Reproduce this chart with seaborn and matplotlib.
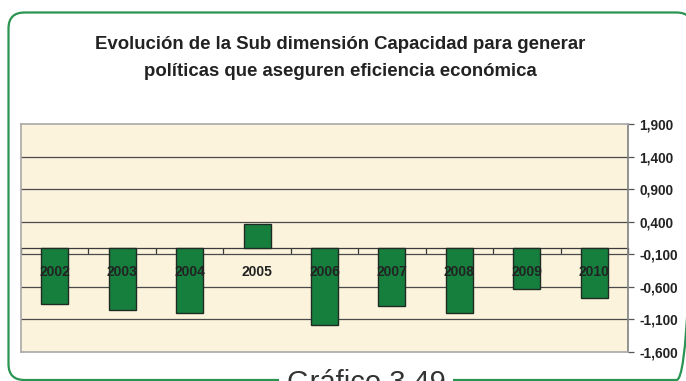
import matplotlib
matplotlib.use("Agg")
import matplotlib.pyplot as plt
import seaborn as sns
import pandas as pd
import numpy as np
from matplotlib.patches import FancyBboxPatch
from matplotlib.ticker import FixedLocator, FuncFormatter

# Data
years = ["2002", "2003", "2004", "2005", "2006", "2007", "2008", "2009", "2010"]
values = [-0.87, -0.95, -1.00, 0.37, -1.19, -0.89, -1.00, -0.64, -0.77]
y_ticks = [1.9, 1.4, 0.9, 0.4, -0.1, -0.6, -1.1, -1.6]

title = ("Evolución de la Sub dimensión Capacidad para generar\n"
         "políticas que aseguren eficiencia económica")
caption = "Gráfico 3.49"

sns.set_theme(style="white")
plt.rcParams["font.family"] = ["Liberation Sans", "DejaVu Sans"]

W, H = 686, 381
fig = plt.figure(figsize=(W / 100, H / 100), dpi=100)
fig.patch.set_facecolor("white")

# Outer rounded frame, drawn in pixel coordinates
frame = fig.add_axes([0, 0, 1, 1], zorder=0)
frame.set_xlim(0, W)
frame.set_ylim(H, 0)
frame.axis("off")
frame.add_patch(FancyBboxPatch((8.5, 12.5), 684, 367.5,
                               boxstyle="round,pad=0,rounding_size=16",
                               fill=False, edgecolor="#2a9452", linewidth=1.6,
                               clip_on=False))
frame.text(366, 369, caption, ha="center", va="top", fontsize=21,
           color="#333333", zorder=5,
           bbox=dict(boxstyle="square,pad=0.25", facecolor="white",
                     edgecolor="none"))
frame.text(340, 58, title, ha="center", va="center", fontsize=13.4,
           fontweight="bold", color="#222222", linespacing=1.75)

# Plot area
left, right, top, bottom = 21, 628, 124, 352
ax = fig.add_axes([left / W, 1 - bottom / H, (right - left) / W,
                   (bottom - top) / H], zorder=1)
ax.set_facecolor("#fbf3dc")

df = pd.DataFrame({"year": years, "value": values})
sns.barplot(data=df, x="year", y="value", ax=ax, color="#167f3e",
            saturation=1, width=0.40, edgecolor="#1e2a22", linewidth=1.0,
            zorder=3)

ax.set_ylim(-1.6, 1.9)
ax.set_xlim(-0.5, len(years) - 0.5)

# Horizontal gridlines
for t in y_ticks[1:-1]:
    ax.axhline(t, color="#4a4a4a", linewidth=0.9, zorder=1)

# Category axis at zero with ticks between categories
ax.axhline(0, color="#3a3a3a", linewidth=0.9, zorder=2)
for k in range(len(years) + 1):
    ax.plot([k - 0.5, k - 0.5], [0, -0.075], color="#3a3a3a",
            linewidth=0.9, zorder=2, clip_on=False)

# Category labels just below the axis, over the bars
ax.set_xticks([])
ax.set_xlabel("")
for i, yr in enumerate(years):
    ax.text(i, -0.37, yr, ha="center", va="center", fontsize=10,
            fontweight="bold", color="#222222", zorder=4)

# Value axis on the right
ax.yaxis.tick_right()
ax.yaxis.set_major_locator(FixedLocator(y_ticks))
ax.yaxis.set_major_formatter(FuncFormatter(
    lambda v, p: f"{v:.3f}".replace(".", ",")))
ax.tick_params(axis="y", which="major", right=True, left=False, length=4,
               width=0.9, color="#555555", pad=4, labelsize=9.8,
               labelcolor="#222222")
for lab in ax.get_yticklabels():
    lab.set_fontweight("bold")
ax.set_ylabel("")

for side in ["left", "right", "top", "bottom"]:
    ax.spines[side].set_visible(True)
    ax.spines[side].set_color("#a8a8a8")
    ax.spines[side].set_linewidth(1.2)
ax.spines["right"].set_color("#808080")

fig.savefig("out.png", dpi=100, facecolor="white")
